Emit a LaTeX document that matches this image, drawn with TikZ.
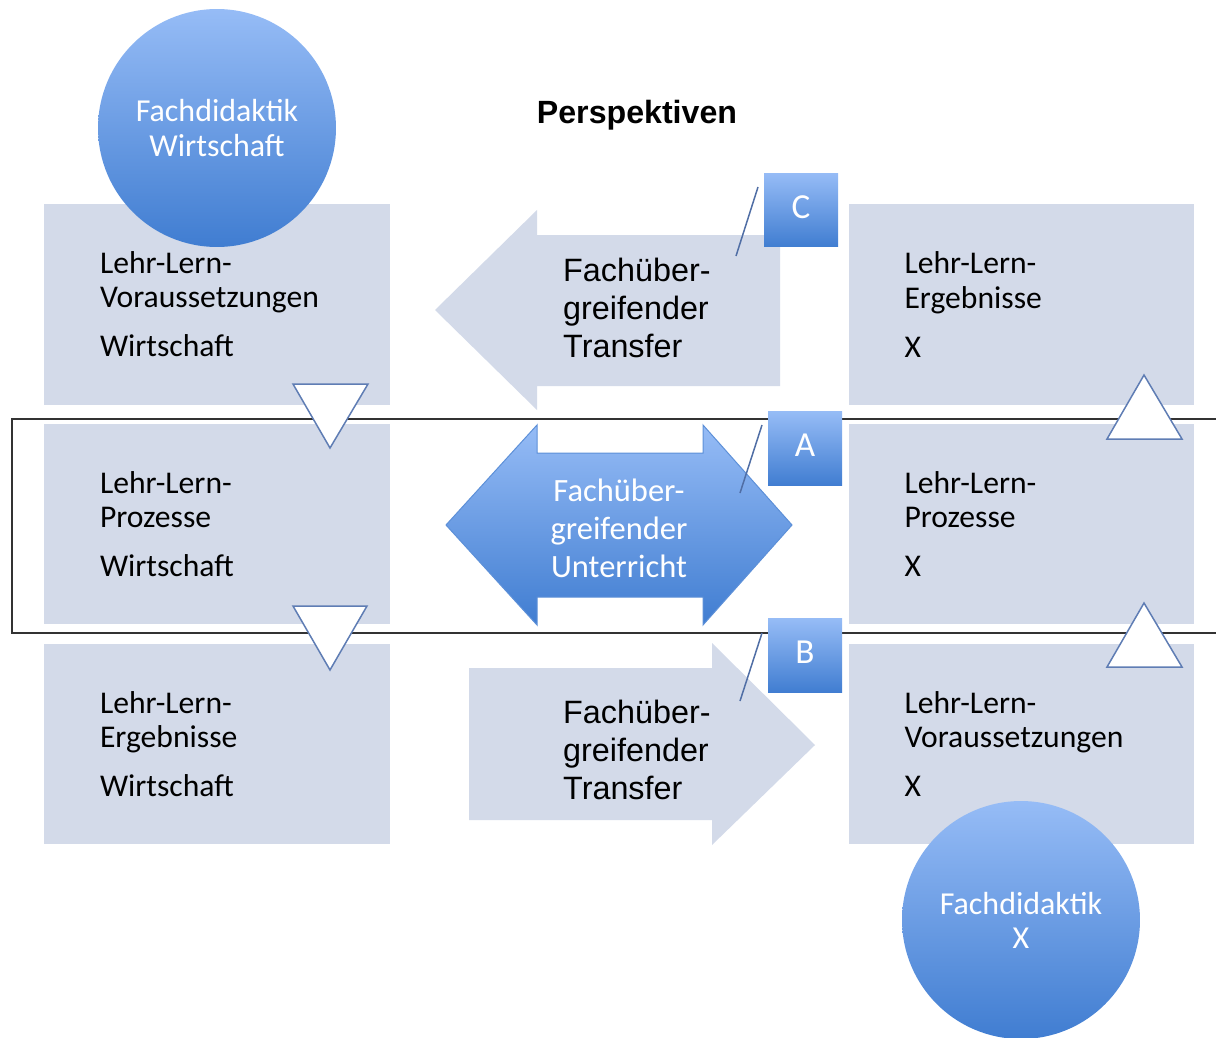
\documentclass[tikz,border=0pt]{standalone}
\usepackage{fontspec}
\setmainfont{Carlito}
\newfontfamily\arialfont{Liberation Sans}

\definecolor{boxgray}{RGB}{211,218,233}
\definecolor{blueTop}{RGB}{150,188,246}
\definecolor{blueBot}{RGB}{64,125,209}
\definecolor{triLine}{RGB}{95,125,180}
\definecolor{callLine}{RGB}{80,110,165}

\tikzset{
	box/.style={fill=boxgray, minimum width=6.92cm, minimum height=4.02cm, inner xsep=1.12cm, text width=4.68cm, align=left, font=\fontsize{18}{19.4}\selectfont},
	bubble/.style={circle, minimum size=4.76cm, top color=blueTop, bottom color=blueBot, text=white, align=center, font=\fontsize{18.2}{19.4}\selectfont},
	callout/.style={minimum size=1.48cm, top color=blueTop, bottom color=blueBot, text=white, text depth=3.4pt, font=\fontsize{20}{24}\selectfont},
	tri/.style={fill=white, draw=triLine, line width=0.3mm},
	transfer/.style={anchor=west, align=left, font=\arialfont\fontsize{18.4}{21.6}\selectfont},
}

\begin{document}
\begin{tikzpicture}[x=0.02cm, y=-0.02cm]
		%%%%% START %%%%%
		\useasboundingbox (0,0) rectangle (1216,1037);
		
		% band round the middle row
		\draw[line width=0.25mm, color=black!80] (1240,419) -- (12,419) -- (12,633) -- (1240,633);
		
		% left column
		\node[box] (lvor) at (217,304.5) {Lehr-Lern-\\Voraussetzungen\\[8.5pt]Wirtschaft};
		\node[box] (lpro) at (217,524) {Lehr-Lern-\\Prozesse\\[8.5pt]Wirtschaft};
		\node[box] (lerg) at (217,744) {Lehr-Lern-\\Ergebnisse\\[8.5pt]Wirtschaft};
		
		% right column
		\node[box] (rerg) at (1021.5,304.5) {Lehr-Lern-\\Ergebnisse\\[8.5pt]X};
		\node[box] (rpro) at (1021.5,524) {Lehr-Lern-\\Prozesse\\[8.5pt]X};
		\node[box] (rvor) at (1021.5,744) {Lehr-Lern-\\Voraussetzungen\\[8.5pt]X};
		
		% transfer arrows
		\fill[boxgray] (780,235) -- (537,235) -- (537,210) -- (435,310) -- (537,410) -- (537,386) -- (780,386) -- cycle;
		\fill[boxgray] (469,668) -- (712,668) -- (712,643) -- (815,745) -- (712,845) -- (712,820) -- (469,820) -- cycle;
		\node[transfer] (trC) at (557,308) {Fachüber-\\greifender\\Transfer};
		\node[transfer] (trB) at (557,750) {Fachüber-\\greifender\\Transfer};
		
		% double arrow
		\draw[top color=blueTop, bottom color=blueBot, draw=blueBot!85, line width=0.2mm] (446,525) -- (537,425) -- (537,453) -- (703,453) -- (703,425) -- (792,525) -- (703,625) -- (703,597) -- (537,597) -- (537,625) -- cycle;
		\node[text=white, align=center, font=\fontsize{18.5}{21.6}\selectfont] (unt) at (619,528) {Fachüber-\\greifender\\Unterricht};
		
		% triangles
		\draw[tri] (293,384) -- (368,384) -- (330,448) -- cycle;
		\draw[tri] (293,606) -- (367,606) -- (330,670) -- cycle;
		\draw[tri] (1144,375) -- (1182,439) -- (1107,439) -- cycle;
		\draw[tri] (1144,603) -- (1182,667) -- (1107,667) -- cycle;
		
		% callouts
		\node[callout] (cC) at (801,210) {C};
		\node[callout] (cA) at (805,448.5) {A};
		\node[callout] (cB) at (805,655.5) {B};
		\coordinate (cCa) at (758,187);
		\coordinate (cCb) at (736,256);
		\coordinate (cAa) at (762,425);
		\coordinate (cAb) at (740,493);
		\coordinate (cBa) at (762,633);
		\coordinate (cBb) at (740,701);
		\draw[line width=0.3mm, color=callLine] (cCa) -- (cCb);
		\draw[line width=0.3mm, color=callLine] (cAa) -- (cAb);
		\draw[line width=0.3mm, color=callLine] (cBa) -- (cBb);
		
		% circles
		\node[bubble] (fdw) at (217,128) {Fachdidaktik\\Wirtschaft};
		\node[bubble] (fdx) at (1021,920) {Fachdidaktik\\X};
		
		\node[font=\arialfont\bfseries\fontsize{18.3}{22}\selectfont] (persp) at (637,115) {Perspektiven};
		
		%%%%% END %%%%%
	\end{tikzpicture}
\end{document}
